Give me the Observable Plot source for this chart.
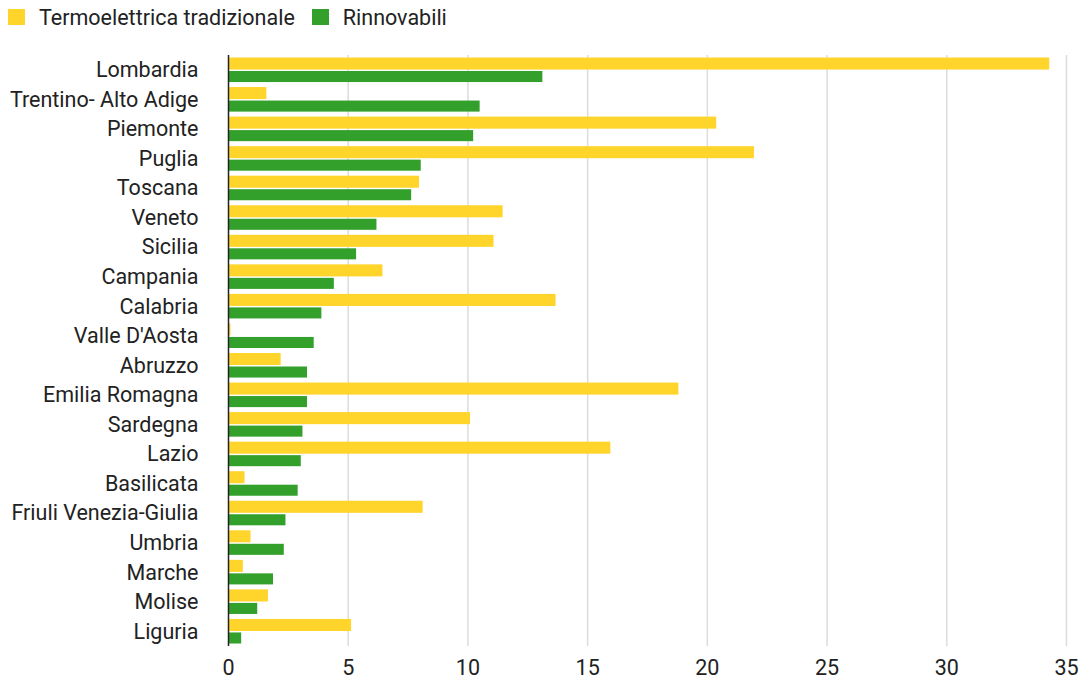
<!DOCTYPE html>
<html>
<head>
<meta charset="utf-8">
<script src="https://cdn.jsdelivr.net/npm/d3@7"></script>
<script src="https://cdn.jsdelivr.net/npm/@observablehq/plot@0.6"></script>
<style>
  html, body { margin: 0; padding: 0; background: #fff; }
  body { width: 1085px; height: 682px; overflow: hidden; font-family: Roboto, sans-serif; color: #222; }
  #legend { height: 40px; display: flex; align-items: center; font-size: 21.5px; padding-left: 8px; box-sizing: border-box; padding-bottom: 6px; }
  .item { display: flex; align-items: center; margin-right: 17px; }
  .sw { width: 17px; height: 16px; margin-right: 14px; }
  #chart svg { display: block; }
</style>
</head>
<body>
<div id="legend"></div>
<div id="chart"></div>
<script>
const regions = ["Lombardia", "Trentino- Alto Adige", "Piemonte", "Puglia", "Toscana", "Veneto", "Sicilia", "Campania", "Calabria", "Valle D'Aosta", "Abruzzo", "Emilia Romagna", "Sardegna", "Lazio", "Basilicata", "Friuli Venezia-Giulia", "Umbria", "Marche", "Molise", "Liguria"];
const termoelettrica = [34.3, 1.6, 20.39, 21.97, 7.98, 11.47, 11.09, 6.45, 13.68, 0.1, 2.2, 18.81, 10.11, 15.97, 0.69, 8.13, 0.94, 0.62, 1.67, 5.14];
const rinnovabili = [13.13, 10.51, 10.24, 8.05, 7.65, 6.2, 5.35, 4.42, 3.9, 3.58, 3.3, 3.3, 3.11, 3.04, 2.91, 2.4, 2.33, 1.88, 1.22, 0.55];
const seriesNames = ["Termoelettrica tradizionale", "Rinnovabili"];
const seriesColors = ["#ffd42b", "#33a02c"];
const xTicks = [0, 5, 10, 15, 20, 25, 30, 35];

const legend = document.getElementById("legend");
seriesNames.forEach((n, i) => {
  const it = document.createElement("div");
  it.className = "item";
  it.innerHTML = `<span class="sw" style="background:${seriesColors[i]}"></span><span>${n}</span>`;
  legend.appendChild(it);
});

const dataT = regions.map((r, i) => ({region: r, value: termoelettrica[i]}));
const dataR = regions.map((r, i) => ({region: r, value: rinnovabili[i]}));

const chart = Plot.plot({
  width: 1085,
  height: 642,
  marginLeft: 228,
  marginRight: 19,
  marginTop: 15,
  marginBottom: 36,
  style: {fontFamily: "Roboto, sans-serif", fontSize: "21.5px", color: "#222", background: "#fff"},
  x: {domain: [0, 35], ticks: xTicks, label: null},
  y: {domain: regions, padding: 0, round: false, label: null},
  marks: [
    Plot.gridX(xTicks.slice(1), {stroke: "#dcdcdc", strokeOpacity: 1, strokeWidth: 1.5}),
    Plot.barX(dataT, {x: "value", y: "region", fill: seriesColors[0], insetTop: 2.5, insetBottom: 15}),
    Plot.barX(dataR, {x: "value", y: "region", fill: seriesColors[1], insetTop: 16, insetBottom: 2.5}),
    Plot.ruleX([0], {stroke: "#222", strokeWidth: 1.5}),
    Plot.axisY({tickSize: 0, tickPadding: 30, fontSize: 21.5, label: null}),
    Plot.axisX({ticks: xTicks, tickSize: 0, tickPadding: 13, fontSize: 21.5, label: null})
  ]
});
document.getElementById("chart").appendChild(chart);
</script>
</body>
</html>
